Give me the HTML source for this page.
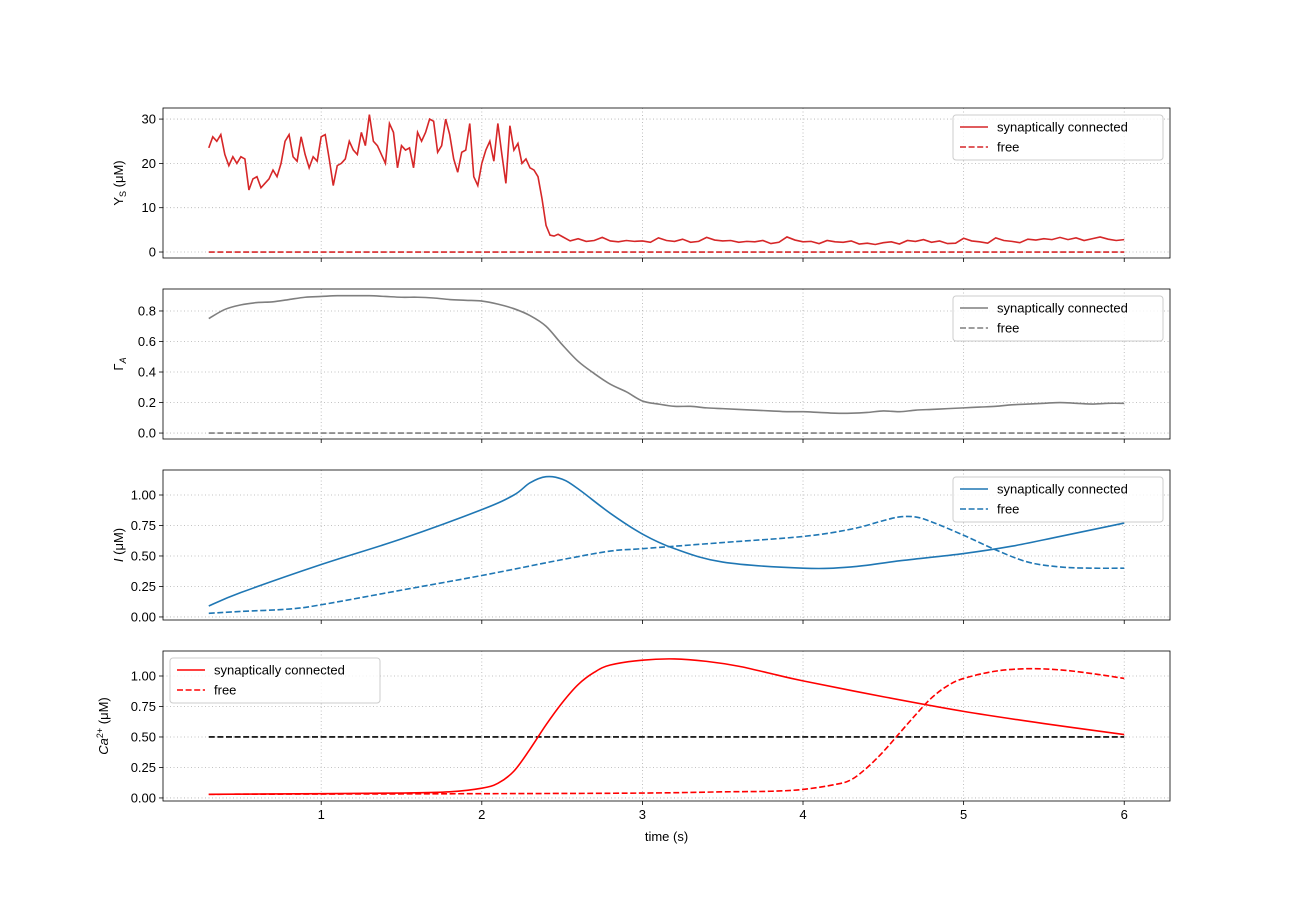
<!DOCTYPE html>
<html><head><meta charset="utf-8"><style>
body{margin:0;background:#fff}
svg{font-family:"Liberation Sans","DejaVu Sans",sans-serif}
</style></head><body>
<svg id="fig" width="1300" height="900" xmlns="http://www.w3.org/2000/svg"></svg>
<script>
// ---- data ----
const ysNoisyStart = 0.3, ysNoisyStep = 0.025;
const ysNoisy = [23.5,26,25,26.5,22,19.5,21.5,20,21.5,21,14,16.5,17,14.5,15.5,16.5,18.5,17,20,25,26.5,21.5,20.5,26,22,19,21.5,20.5,26,26.5,21,15,19.5,20,21,25,23,22,27,24,31,25,24,22,20,29,27,19,24,23,23.5,19,27,25,27,30,29.5,22.5,24,30,26.5,21,18,22.5,23,29,17,15,20,23,25,20.5,29,22,15.5,28.5,23,24.5,20,21,19,18.5,17,12,6,3.8,3.6,4.0,3.6];
const ysTailStart = 2.5, ysTailStep = 0.05;
const ysTail = [3.5,2.5,3.0,2.4,2.6,3.3,2.5,2.3,2.6,2.4,2.5,2.2,3.2,2.6,2.4,2.9,2.2,2.4,3.3,2.7,2.5,2.6,2.2,2.4,2.3,2.6,1.9,2.2,3.4,2.7,2.3,2.4,1.9,2.6,2.3,2.2,2.5,1.8,2.0,1.7,2.1,2.3,1.8,2.6,2.4,2.8,2.2,2.5,1.9,2.0,3.1,2.5,2.3,2.0,3.2,2.6,2.4,2.1,2.9,2.7,3.0,2.8,3.3,2.8,3.2,2.6,3.0,3.4,2.9,2.6,2.8];
const gaStart = 0.3, gaStep = 0.1;
const gammaA = [0.75,0.81,0.84,0.855,0.86,0.875,0.89,0.895,0.9,0.9,0.9,0.895,0.89,0.89,0.885,0.875,0.87,0.865,0.845,0.815,0.77,0.7,0.58,0.47,0.39,0.32,0.27,0.21,0.19,0.175,0.175,0.165,0.16,0.155,0.15,0.145,0.14,0.14,0.135,0.13,0.13,0.135,0.145,0.14,0.15,0.155,0.16,0.165,0.17,0.175,0.185,0.19,0.195,0.2,0.195,0.19,0.195,0.195];
const iConnT = [0.3,0.5,1.0,1.5,2.0,2.2,2.3,2.4,2.5,2.6,2.8,3.0,3.2,3.5,4.0,4.3,4.6,5.0,5.3,5.6,6.0];
const iConnV = [0.09,0.2,0.43,0.64,0.88,1.0,1.1,1.15,1.13,1.05,0.85,0.68,0.56,0.45,0.4,0.41,0.46,0.52,0.58,0.66,0.77];
const iFreeT = [0.3,0.5,0.8,1.0,1.5,2.0,2.5,2.8,3.0,3.5,4.0,4.3,4.5,4.6,4.7,4.8,5.0,5.2,5.4,5.6,5.8,6.0];
const iFreeV = [0.03,0.045,0.065,0.1,0.22,0.34,0.47,0.54,0.56,0.61,0.66,0.72,0.79,0.82,0.82,0.78,0.67,0.55,0.45,0.41,0.4,0.4];
const caConnT = [0.3,1.0,1.5,1.8,2.0,2.1,2.2,2.3,2.4,2.5,2.6,2.7,2.8,3.0,3.2,3.4,3.6,3.8,4.0,4.5,5.0,5.5,6.0];
const caConnV = [0.03,0.035,0.04,0.05,0.08,0.12,0.22,0.4,0.6,0.78,0.93,1.03,1.09,1.13,1.14,1.12,1.08,1.02,0.96,0.83,0.71,0.61,0.52];
const caFreeT = [0.3,2.0,3.0,3.5,3.8,4.0,4.2,4.3,4.4,4.5,4.6,4.7,4.8,4.9,5.0,5.2,5.4,5.6,5.8,6.0];
const caFreeV = [0.03,0.035,0.04,0.05,0.055,0.07,0.11,0.15,0.25,0.38,0.53,0.68,0.82,0.92,0.98,1.04,1.06,1.05,1.02,0.98];
const caThreshold = 0.5;
const xTicks = [1,2,3,4,5,6];

// ---- layout ----
const NS="http://www.w3.org/2000/svg", svg=document.getElementById('fig');
const L=163,R=1170,X0=0.015,X1=6.285;
const xs=t=>L+(t-X0)/(X1-X0)*(R-L);
function el(tag,attrs,parent){const e=document.createElementNS(NS,tag);for(const k in attrs)e.setAttribute(k,attrs[k]);(parent||svg).appendChild(e);return e;}
function seq(start,step,vals){return vals.map((v,i)=>[start+i*step,v]);}
function zip(t,v){return t.map((x,i)=>[x,v[i]]);}
function smoothPath(pts,xf,yf){
  const p=pts.map(q=>[xf(q[0]),yf(q[1])]);
  let d='M'+p[0][0]+','+p[0][1];
  for(let i=0;i<p.length-1;i++){
    const p0=p[i-1]||p[i],p1=p[i],p2=p[i+1],p3=p[i+2]||p2;
    const c1=[p1[0]+(p2[0]-p0[0])/6,p1[1]+(p2[1]-p0[1])/6];
    const c2=[p2[0]-(p3[0]-p1[0])/6,p2[1]-(p3[1]-p1[1])/6];
    d+=`C${c1[0]},${c1[1]} ${c2[0]},${c2[1]} ${p2[0]},${p2[1]}`;
  }
  return d;
}
function linePath(pts,xf,yf){return pts.map((q,i)=>(i?'L':'M')+xf(q[0])+','+yf(q[1])).join('');}

const panels=[
 {top:108,y0:-1.35,y1:32.5,ticks:[0,10,20,30],fmt:v=>String(v),label:'Y<tspan font-size="9" dy="3">S</tspan><tspan dy="-3"> (μM)</tspan>',name:'ys-panel',legend:'right',color:'#d62728'},
 {top:289,y0:-0.039,y1:0.944,ticks:[0,0.2,0.4,0.6,0.8],fmt:v=>v.toFixed(1),label:'Γ<tspan font-size="9" dy="3" font-style="italic">A</tspan>',name:'gamma-panel',legend:'right',color:'#7f7f7f'},
 {top:470,y0:-0.025,y1:1.205,ticks:[0,0.25,0.5,0.75,1],fmt:v=>v.toFixed(2),label:'<tspan font-style="italic">I</tspan> (μM)',name:'ip3-panel',legend:'right',color:'#1f77b4'},
 {top:651,y0:-0.025,y1:1.205,ticks:[0,0.25,0.5,0.75,1],fmt:v=>v.toFixed(2),label:'<tspan font-style="italic">Ca</tspan><tspan font-size="9" dy="-5">2+</tspan><tspan dy="5"> (μM)</tspan>',name:'calcium-panel',legend:'left',color:'#ff0000'}
];
const H=150;
panels.forEach((P,pi)=>{
  const g=el('g',{});
  
  
  const ys=v=>P.top+H-(v-P.y0)/(P.y1-P.y0)*H;
  xTicks.forEach(t=>{el('line',{x1:xs(t),x2:xs(t),y1:P.top,y2:P.top+H,stroke:'#b0b0b0','stroke-width':0.8,'stroke-dasharray':'1,2.5'},g);});
  P.ticks.forEach(v=>{el('line',{x1:L,x2:R,y1:ys(v),y2:ys(v),stroke:'#b0b0b0','stroke-width':0.8,'stroke-dasharray':'1,2.5'},g);
    el('line',{x1:L-4,x2:L,y1:ys(v),y2:ys(v),stroke:'#000','stroke-width':0.8},g);
    const tx=el('text',{x:L-7,y:ys(v)+4.5,'text-anchor':'end','font-size':13},g);tx.textContent=P.fmt(v);
    
  });
  xTicks.forEach(t=>{el('line',{x1:xs(t),x2:xs(t),y1:P.top+H,y2:P.top+H+4,stroke:'#000','stroke-width':0.8},g);
    if(pi===3){const tx=el('text',{x:xs(t),y:P.top+H+18,'text-anchor':'middle','font-size':13},g);tx.textContent=t;
      }
  });
  let solid,dashed;
  if(pi===0){
    const pts=seq(ysNoisyStart,ysNoisyStep,ysNoisy).filter(p=>p[0]<2.49).concat(seq(ysTailStart,ysTailStep,ysTail));
    solid=el('path',{d:linePath(pts,xs,ys)},g);
    dashed=el('path',{d:linePath([[0.3,0],[6,0]],xs,ys)},g);
  } else if(pi===1){
    solid=el('path',{d:smoothPath(seq(gaStart,gaStep,gammaA),xs,ys)},g);
    dashed=el('path',{d:linePath([[0.3,0],[6,0]],xs,ys)},g);
  } else if(pi===2){
    solid=el('path',{d:smoothPath(zip(iConnT,iConnV),xs,ys)},g);
    dashed=el('path',{d:smoothPath(zip(iFreeT,iFreeV),xs,ys)},g);
  } else {
    const th=el('path',{d:linePath([[0.3,caThreshold],[6,caThreshold]],xs,ys),fill:'none',stroke:'#000','stroke-width':1.6,'stroke-dasharray':'6,2.6'},g);
    
    solid=el('path',{d:smoothPath(zip(caConnT,caConnV),xs,ys)},g);
    dashed=el('path',{d:smoothPath(zip(caFreeT,caFreeV),xs,ys)},g);
  }
  [solid,dashed].forEach((p,k)=>{p.setAttribute('fill','none');p.setAttribute('stroke',P.color);p.setAttribute('stroke-width',1.6);if(k)p.setAttribute('stroke-dasharray','6,2.6');});
  
  
  el('rect',{x:L,y:P.top,width:R-L,height:H,fill:'none',stroke:'#000','stroke-width':0.8},g);
  const yl=el('text',{x:0,y:0,'font-size':13,'text-anchor':'middle',transform:`translate(${pi===3?108:123},${P.top+H/2}) rotate(-90)`},g);
  yl.innerHTML=P.label;
  
  const lx=P.legend==='right'?953:170, ly=P.top+7;
  const lg=el('g',{},g);
  
  el('rect',{x:lx,y:ly,width:210,height:45,rx:3,fill:'#fff','fill-opacity':0.8,stroke:'#ccc','stroke-width':1},lg);
  [['synaptically connected',0],['free',1]].forEach(([txt,k])=>{
    const yy=ly+12+k*20;
    el('line',{x1:lx+7,x2:lx+35,y1:yy,y2:yy,stroke:P.color,'stroke-width':1.6,'stroke-dasharray':k?'6,2.6':'none'},lg);
    const t=el('text',{x:lx+44,y:yy+4.5,'font-size':13},lg);t.textContent=txt;
    
  });
});
const xl=el('text',{x:(L+R)/2,y:841,'text-anchor':'middle','font-size':13});
xl.textContent='time (s)';


</script>
</body></html>
